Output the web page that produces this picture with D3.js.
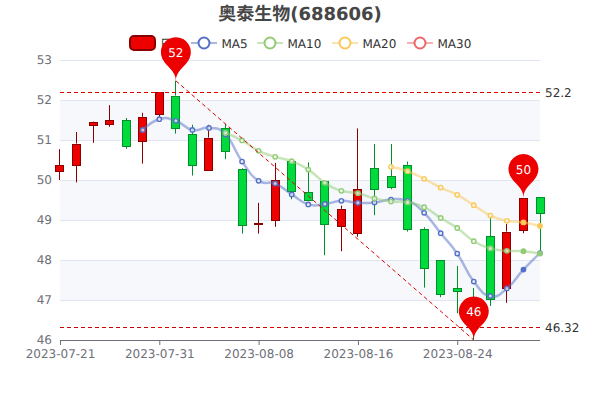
<!DOCTYPE html>
<html><head><meta charset="utf-8">
<script src="https://cdnjs.cloudflare.com/ajax/libs/d3/7.8.5/d3.min.js"></script>
<style>html,body{margin:0;padding:0;background:#fff}svg{display:block}text{font-family:"DejaVu Sans","Noto Sans CJK SC",sans-serif;text-rendering:geometricPrecision}</style>
</head><body><svg id="c" width="600" height="400"></svg>
<script>
const dates=["2023-07-21","2023-07-24","2023-07-25","2023-07-26","2023-07-27","2023-07-28","2023-07-31","2023-08-01","2023-08-02","2023-08-03","2023-08-04","2023-08-07","2023-08-08","2023-08-09","2023-08-10","2023-08-11","2023-08-14","2023-08-15","2023-08-16","2023-08-17","2023-08-18","2023-08-21","2023-08-22","2023-08-23","2023-08-24","2023-08-25","2023-08-28","2023-08-29","2023-08-30","2023-08-31"];
const tickDates=["2023-07-21","2023-07-31","2023-08-08","2023-08-16","2023-08-24"];
const yTicks=[46,47,48,49,50,51,52,53];
const opens =[50.21,50.38,51.38,51.40,51.49,50.98,51.66,52.11,51.15,50.27,51.30,50.28,48.90,48.99,50.47,49.69,49.97,48.85,48.66,50.30,50.10,50.38,48.78,48.01,47.29,46.95,48.60,47.32,48.77,49.57];
const closes=[50.37,50.91,51.46,51.49,50.83,51.58,52.21,51.30,50.37,51.06,50.72,48.87,48.92,49.99,49.72,49.50,48.90,49.28,49.77,49.77,49.83,48.78,47.80,47.15,47.22,46.40,47.02,48.71,49.56,49.16];
const highs =[50.77,51.20,51.47,51.87,51.55,51.68,52.21,52.48,51.38,51.38,51.40,50.30,49.43,50.43,50.47,50.44,49.97,49.36,51.29,50.90,50.90,50.46,48.82,48.01,47.85,47.30,49.10,48.90,49.56,49.57];
const lows  =[50.00,49.94,50.93,51.33,50.78,50.41,51.58,51.16,50.11,50.27,50.52,48.66,48.66,48.83,49.52,49.50,48.12,48.22,48.58,49.12,49.77,48.71,47.31,47.07,46.67,46.00,46.85,46.93,48.67,48.18];
const ma5 =[null,null,null,null,null,51.25,51.52,51.48,51.25,51.30,51.14,50.46,49.98,49.91,49.64,49.39,49.40,49.48,49.43,49.44,49.51,49.48,49.18,48.67,48.16,47.46,47.10,47.29,47.76,48.17];
const ma10=[null,null,null,null,null,null,null,null,null,null,51.18,50.99,50.73,50.58,50.47,50.26,49.93,49.73,49.67,49.54,49.46,49.44,49.32,49.05,48.80,48.47,48.29,48.23,48.22,48.16];
const ma20=[null,null,null,null,null,null,null,null,null,null,null,null,null,null,null,null,null,null,null,null,50.33,50.22,50.03,49.81,49.63,49.37,49.11,48.98,48.94,48.85];
const maNames=["MA5","MA10","MA20","MA30"];
const maColors=["#5470c6","#91cc75","#fac858","#ee6666"];
const legendX=[191,257,332,407];
const hLines=[52.2,46.32];
const hLineColors=["#e00000","#cc0000"];
const trendFrom={i:7,v:52.48}, trendTo={i:25,v:46};
const pins=[{i:7,v:52.48,t:"52"},{i:28,v:49.56,t:"50"},{i:25,v:46,t:"46"}];

const svg=d3.select("#c");
const x=d3.scalePoint().domain(dates).range([60,540]);
const y=d3.scaleLinear().domain([46,53]).range([340,60]);
const crisp=v=>Math.round(v)+0.5;
const textGrey="#6e7079";

// split bands
for(let k=0;k<yTicks.length-1;k++){
  if((yTicks.length-2-k)%2===1) svg.append("rect").attr("x",60).attr("width",480)
    .attr("y",y(yTicks[k+1])).attr("height",y(yTicks[k])-y(yTicks[k+1])).attr("fill","#f6f8fc");
}
// grid and y labels
yTicks.forEach(t=>{
  if(t>46) svg.append("line").attr("x1",60).attr("x2",540).attr("y1",y(t)+0.5).attr("y2",y(t)+0.5).attr("stroke","#e0e6f1");
  svg.append("text").attr("x",52).attr("y",y(t)+3.5).attr("text-anchor","end").attr("font-size",12).attr("fill",textGrey).text(t);
});
// x axis
const xg=svg.append("g").attr("transform","translate(0,340)");
xg.call(d3.axisBottom(x).tickValues(tickDates).tickSize(5).tickPadding(4));
xg.select(".domain").attr("stroke","#6e7079").attr("d","M60,0.5H540");
xg.selectAll(".tick line").attr("stroke","#6e7079");
xg.selectAll(".tick text").attr("fill",textGrey).attr("font-size",12).attr("font-family",'"DejaVu Sans"');

// candles
dates.forEach((d,i)=>{
  const up=closes[i]>=opens[i];
  const fill=up?"#ec0000":"#00da3c", st=up?"#8a0000":"#008f28";
  const cx=crisp(x(d)-0.5);
  const top=Math.max(opens[i],closes[i]), bot=Math.min(opens[i],closes[i]);
  svg.append("line").attr("x1",cx).attr("x2",cx).attr("y1",y(highs[i])).attr("y2",y(top)).attr("stroke",st);
  svg.append("line").attr("x1",cx).attr("x2",cx).attr("y1",y(bot)).attr("y2",y(lows[i])).attr("stroke",st);
  svg.append("rect").attr("x",cx-4).attr("width",8).attr("y",crisp(y(top))).attr("height",Math.max(1,Math.round(y(bot)-y(top))))
    .attr("fill",fill).attr("stroke",st);
});

// moving averages
const curve=d3.curveCardinal.tension(-0.5);
[ma5,ma10,ma20].forEach((s,k)=>{
  const line=d3.line().defined(v=>v!=null).x((v,i)=>x(dates[i])).y(v=>y(v)).curve(curve);
  svg.append("path").attr("d",line(s)).attr("fill","none").attr("stroke",maColors[k]).attr("stroke-width",2.5).attr("stroke-opacity",0.5);
  s.forEach((v,i)=>{ if(v==null) return;
    svg.append("circle").attr("cx",x(dates[i])).attr("cy",y(v)).attr("r",2.2)
      .attr("fill",i>=28?maColors[k]:"#fff").attr("fill-opacity",i>=28?1:0.7).attr("stroke",maColors[k]).attr("stroke-width",1.4);
  });
});

// mark lines
hLines.forEach((v,k)=>{
  const py=Math.round(y(v))+0.5;
  svg.append("line").attr("x1",60).attr("x2",540).attr("y1",py).attr("y2",py).attr("stroke",hLineColors[k]).attr("stroke-dasharray","4 3");
  svg.append("text").attr("x",545).attr("y",py+4).attr("font-size",12).attr("fill","#333").text(v);
});
svg.append("line").attr("x1",x(dates[trendFrom.i])).attr("y1",y(trendFrom.v)).attr("x2",x(dates[trendTo.i])).attr("y2",y(trendTo.v))
  .attr("stroke","#e00000").attr("stroke-dasharray","4 3");

// title
svg.append("text").attr("x",300).attr("y",20).attr("text-anchor","middle").attr("font-size",18).attr("font-weight","bold").attr("fill","#464646").text("奥泰生物(688606)");

// legend
svg.append("rect").attr("x",130).attr("y",36).attr("width",25).attr("height",14).attr("rx",4).attr("fill","#ec0000").attr("stroke","#8a0000").attr("stroke-width",2);
svg.append("text").attr("x",160).attr("y",47.5).attr("font-size",12).attr("fill","#333").text("日K");
maNames.forEach((n,k)=>{
  const lx=legendX[k];
  svg.append("line").attr("x1",lx).attr("x2",lx+26).attr("y1",43).attr("y2",43).attr("stroke",maColors[k]).attr("stroke-width",2).attr("stroke-opacity",0.5);
  svg.append("circle").attr("cx",lx+13).attr("cy",43).attr("r",5.5).attr("fill","#fff").attr("stroke",maColors[k]).attr("stroke-width",2);
  svg.append("text").attr("x",lx+30.5).attr("y",47.5).attr("font-size",12).attr("fill","#333").text(n);
});

// pins
function pinPath(px,py){
  const w=30,h=50,r=w/2,dy=r*r/(h-r),cy=py-h+r+dy,a=Math.asin(dy/r),dx=Math.cos(a)*r,tx=Math.sin(a),ty=Math.cos(a),c1=r*0.6,c2=r*0.7;
  const p=d3.path();
  p.moveTo(px-dx,cy+dy);
  p.arc(px,cy,r,Math.PI-a,Math.PI*2+a);
  p.bezierCurveTo(px+dx-tx*c1,cy+dy+ty*c1,px,py-c2,px,py);
  p.bezierCurveTo(px,py-c2,px-dx+tx*c1,cy+dy+ty*c1,px-dx,cy+dy);
  p.closePath();
  return {d:p.toString(),cy};
}
pins.forEach(m=>{
  const px=x(dates[m.i]),py=y(m.v),g=pinPath(px,py);
  svg.append("path").attr("d",g.d).attr("fill","#ec0000");
  svg.append("text").attr("x",px).attr("y",g.cy+4.5).attr("text-anchor","middle").attr("font-size",12).attr("fill","#fff").text(m.t);
});
</script></body></html>
